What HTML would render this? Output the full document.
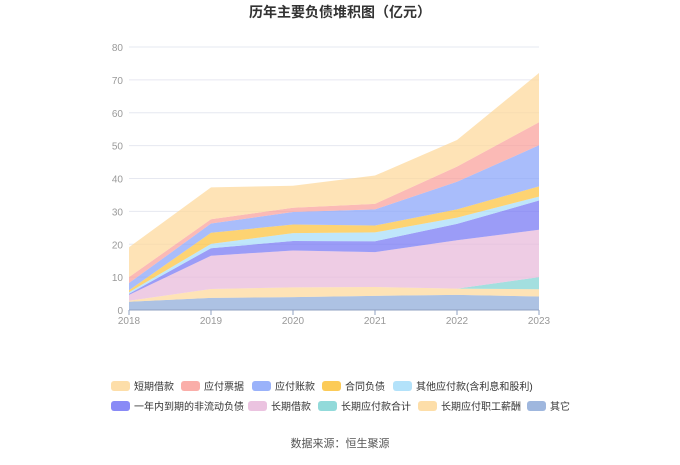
<!DOCTYPE html>
<html><head><meta charset="utf-8"><style>
body{margin:0;background:#fff;font-family:"Liberation Sans","Noto Sans CJK SC",sans-serif;}
svg text{font-family:"Liberation Sans","Noto Sans CJK SC",sans-serif;}
</style></head><body>
<svg id="c" width="680" height="460">
<text x="340" y="17" text-anchor="middle" font-size="14" font-weight="bold" fill="#333">历年主要负债堆积图（亿元）</text>
<g id="grid"></g><g id="areas"></g><g id="axes"></g><g id="legend"></g>
<text x="340" y="447" text-anchor="middle" font-size="11" fill="#555">数据来源：恒生聚源</text>
</svg>
<script>
const years=["2018","2019","2020","2021","2022","2023"];
const yTicks=[0,10,20,30,40,50,60,70,80];
const seriesNames=["其它","长期应付职工薪酬","长期应付款合计","长期借款","一年内到期的非流动负债","其他应付款(含利息和股利)","合同负债","应付账款","应付票据","短期借款"];
const sOther=[2.5,3.7,3.9,4.3,4.6,4.1];
const sPay=[0.3,2.7,3.0,2.7,1.9,2.2];
const sLtPayable=[0,0,0,0,0,3.7];
const sLtLoan=[1.8,10.1,11.2,10.6,14.7,14.4];
const sCurrent=[0.3,2.3,2.9,3.3,5.0,8.9];
const sOtherPay=[0.5,1.3,2.4,2.7,1.9,1.2];
const sContract=[0.6,3.4,2.6,2.1,2.5,3.1];
const sAccounts=[2.2,2.8,3.8,4.9,8.4,12.5];
const sNotes=[1.8,1.3,1.3,1.7,4.6,7.0];
const sShort=[9.1,9.7,6.7,8.6,8.1,15.0];
const series=[sOther,sPay,sLtPayable,sLtLoan,sCurrent,sOtherPay,sContract,sAccounts,sNotes,sShort];
const colors=["#8eaad8","#fdd89a","#7fd3d3","#e8b8da","#7476f4","#a6ddf9","#fcc23b","#88a4f9","#f9a09a","#fdd89a"];
const keys=["other","staff-pay","lt-payable","lt-loan","current-ncl","other-payable","contract","accounts","notes","short-loan"];
const NS="http://www.w3.org/2000/svg";
const x0=129,x1=539,yb=310,yt=47,ymax=80;
const X=i=>x0+i*(x1-x0)/(years.length-1);
const Y=v=>yb-v*(yb-yt)/ymax;
function mk(t,a,p){const e=document.createElementNS(NS,t);for(const k in a)e.setAttribute(k,a[k]);p.appendChild(e);return e;}
const grid=document.getElementById('grid'),axes=document.getElementById('axes'),areas=document.getElementById('areas'),leg=document.getElementById('legend');
yTicks.forEach(v=>{
 if(v>0){const l=mk('line',{x1:x0,x2:x1,y1:Y(v),y2:Y(v),stroke:'#e6e8f0'},grid);
 
 }
 const t=mk('text',{x:x0-6,y:Y(v)+4,'text-anchor':'end','font-size':10,fill:'#999'},axes);t.textContent=v;
 
 
});
const ax=mk('line',{x1:x0,x2:x1,y1:yb,y2:yb,stroke:'#8fa0c0'},axes);


years.forEach((y,i)=>{
 mk('line',{x1:X(i),x2:X(i),y1:yb,y2:yb+5,stroke:'#8fa0c0'},axes);
 const t=mk('text',{x:X(i),y:yb+14,'text-anchor':'middle','font-size':10,fill:'#999'},axes);t.textContent=y;
 
 
});
let base=years.map(()=>0);
series.forEach((s,k)=>{
 const top=base.map((b,i)=>b+s[i]);
 let d='M'+top.map((v,i)=>X(i)+','+Y(v)).join(' L');
 for(let i=years.length-1;i>=0;i--)d+=' L'+X(i)+','+Y(base[i]);
 const p=mk('path',{d:d+'Z',fill:colors[k],'fill-opacity':0.72},areas);
 
 
 base=top;
});
const legItems=[[9,111,386],[8,181,386],[7,252,386],[6,322,386],[5,393,386],[4,111,406],[3,248,406],[2,318,406],[1,418,406],[0,527,406]];
legItems.forEach(([k,x,y])=>{
 const g=mk('g',{},leg);
 
 
 mk('rect',{x:x,y:y-5,width:19,height:10,rx:3,fill:colors[k],'fill-opacity':0.85},g);
 const t=mk('text',{x:x+23,y:y+4,'font-size':10,fill:'#333'},g);t.textContent=seriesNames[k];
});
</script>
</body></html>
